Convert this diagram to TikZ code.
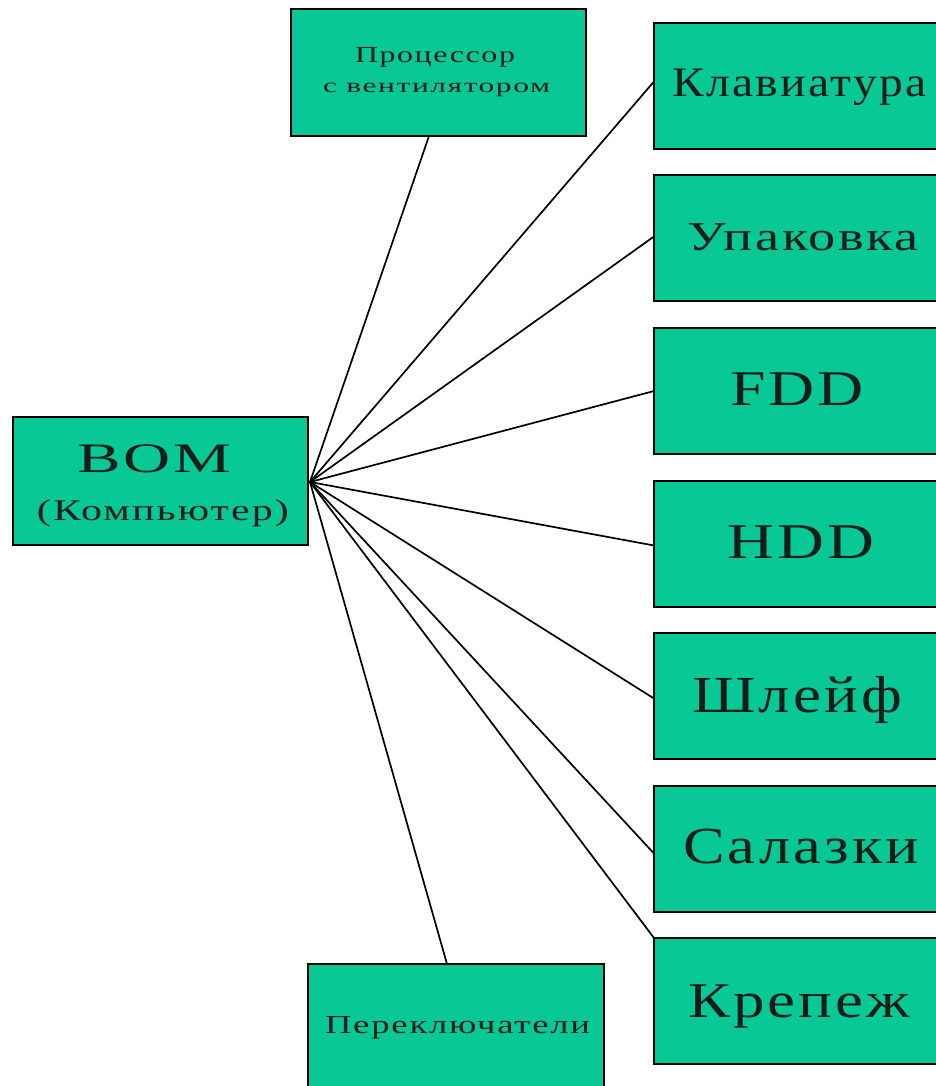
\documentclass[tikz,border=0pt]{standalone}
\usepackage{fontspec}
\usepackage{graphicx}
\setmainfont{Liberation Serif}
\newfontfamily\spacedserif[LetterSpace=5]{Liberation Serif}
\definecolor{boxfill}{RGB}{8,200,150}
\definecolor{ink}{RGB}{20,30,25}
% letter-spaced label fitted to a given width, keeping its height
\newcommand{\fitlabel}[3]{\resizebox{#1pt}{\height}{\spacedserif\fontsize{#2}{#2}\selectfont #3}}
\tikzset{
  partbox/.style={draw=black, line width=2.2pt, fill=boxfill, rectangle,
    inner sep=0pt, outer sep=0pt, anchor=north west},
  wide/.style={partbox, minimum width=320pt, minimum height=126pt},
  txt/.style={inner sep=0pt, outer sep=0pt, anchor=base west, text=ink},
  link/.style={draw=black, line width=1.7pt}
}
\begin{document}
\begin{tikzpicture}[x=1pt, y=-1pt]
\clip (0,0) rectangle (936,1086);
\fill[white] (0,0) rectangle (936,1086);

% central item
\node[partbox, minimum width=295pt, minimum height=128pt] (bom) at (13,417) {};
\node[txt] (tbom) at (77,472) {\fitlabel{155}{42}{BOM}};
\node[txt] (tcomp) at (37,520) {\fitlabel{252}{30}{(Компьютер)}};
\coordinate (hub) at (310,482);

% upper and lower small boxes
\node[partbox, minimum width=295pt, minimum height=127pt] (cpu) at (291,9) {};
\node[txt] (tcpu1) at (355,63) {\fitlabel{160}{23}{Процессор}};
\node[txt] (tcpu2) at (323,93) {\fitlabel{227}{20}{с вентилятором}};

\node[partbox, minimum width=296pt, minimum height=140pt] (sw) at (308,964) {};
\node[txt] (tsw) at (325,1033) {\fitlabel{265}{26}{Переключатели}};

% column of components on the right
\node[wide] (kb)   at (654,23)  {};
\node[wide] (pack) at (654,175) {};
\node[wide] (fdd)  at (654,328) {};
\node[wide] (hdd)  at (654,481) {};
\node[wide] (cab)  at (654,633) {};
\node[wide] (sled) at (654,786) {};
\node[wide] (fix)  at (654,938) {};

\node[txt] (tkb)   at (672,97)   {\fitlabel{255}{42}{Клавиатура}};
\node[txt] (tpack) at (687,250)  {\fitlabel{232}{41}{Упаковка}};
\node[txt] (tfdd)  at (730,405)  {\fitlabel{134}{50}{FDD}};
\node[txt] (thdd)  at (727,558)  {\fitlabel{147}{50}{HDD}};
\node[txt] (tcab)  at (692,712)  {\fitlabel{210}{52}{Шлейф}};
\node[txt] (tsled) at (683,863)  {\fitlabel{236}{52}{Салазки}};
\node[txt] (tfix)  at (688,1017) {\fitlabel{222}{50}{Крепеж}};

% connectors fanning out from the central item
\draw[link] (hub) -- ([xshift=-9.5pt]cpu.south);
\draw[link] (hub) -- ([xshift=-9pt]sw.north);
\draw[link] (hub) -- ([yshift=4.5pt]kb.west);
\draw[link] (hub) -- ([yshift=1.5pt]pack.west);
\draw[link] (hub) -- (fdd.west);
\draw[link] (hub) -- ([yshift=-1.5pt]hdd.west);
\draw[link] (hub) -- ([yshift=-2.5pt]cab.west);
\draw[link] (hub) -- ([yshift=-4.5pt]sled.west);
\draw[link] (hub) -- (fix.north west);
\end{tikzpicture}
\end{document}
